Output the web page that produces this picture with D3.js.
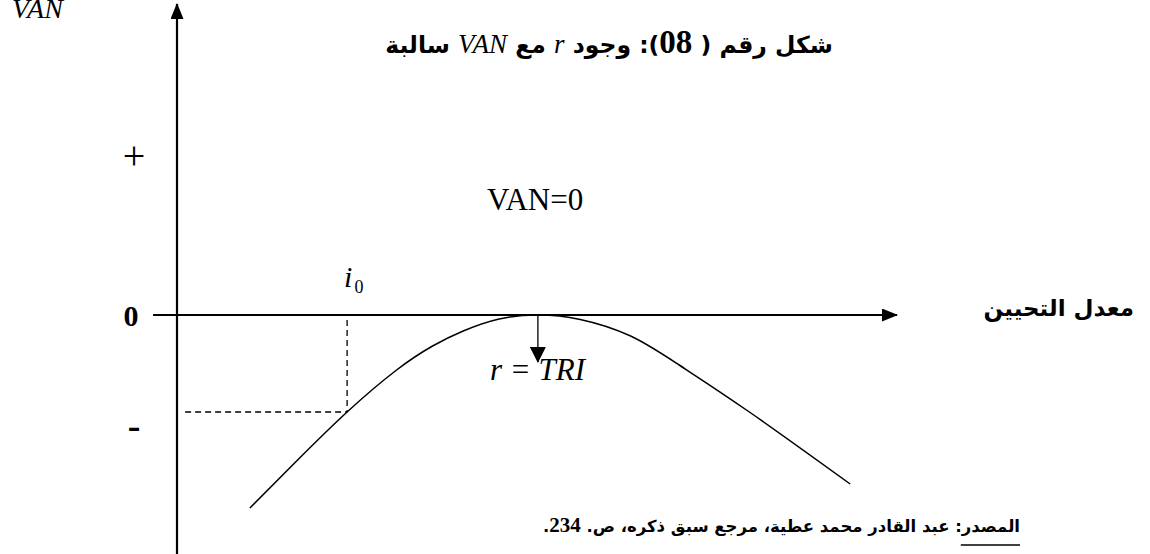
<!DOCTYPE html>
<html>
<head>
<meta charset="utf-8">
<script src="https://cdn.jsdelivr.net/npm/d3@7"></script>
<style>
  body { margin: 0; background: #fff; }
  svg { display: block; }
  .latin { font-family: "Liberation Serif", "Times New Roman", serif; }
  .arabic { font-family: "DejaVu Sans", sans-serif; font-weight: bold; }
</style>
</head>
<body>
<div id="chart"></div>
<script>
// curve: discount rate vs VAN
const rates = [4.05, 6.7, 9.45, 12.2, 14.2, 15.9, 17.9, 20.05, 22.4, 25.2, 27.9, 31.8, 37.4];
const vanValues = [-9.65, -7.25, -4.85, -2.75, -1.55, -0.8, -0.2, 0, -0.22, -1.05, -2.5, -4.85, -8.45];

const i0Rate = 9.45;
const i0Van = -4.85;
const triRate = 20.05;

const signLabels = ["+", "0", "-"];
const signValues = [7.9, 0, -5.5];

const titleParts = ["شكل رقم ( ", "08", "): وجود ", "r", " مع ", "VAN", " سالبة"];
const sourceParts = ["المصدر", ": عبد القادر محمد عطية، مرجع سبق ذكره، ص. ", "234", "."];

const width = 1150, height = 554;

const svg = d3.select("#chart").append("svg")
    .attr("width", width)
    .attr("height", height);

const x = d3.scaleLinear().domain([0, 40]).range([177, 897]);
const y = d3.scaleLinear().domain([-12, 15.75]).range([555, 0]);

// arrow heads
const defs = svg.append("defs");
defs.append("marker")
    .attr("id", "head")
    .attr("viewBox", "0 0 16 13")
    .attr("refX", 15).attr("refY", 6.5)
    .attr("markerWidth", 16).attr("markerHeight", 13)
    .attr("markerUnits", "userSpaceOnUse")
    .attr("orient", "auto")
    .append("path").attr("d", "M0,0L16,6.5L0,13Z").attr("fill", "#000");
defs.append("marker")
    .attr("id", "smallHead")
    .attr("viewBox", "0 0 16 16")
    .attr("refX", 15).attr("refY", 8)
    .attr("markerWidth", 16).attr("markerHeight", 16)
    .attr("markerUnits", "userSpaceOnUse")
    .attr("orient", "auto")
    .append("path").attr("d", "M0,0L16,8L0,16Z").attr("fill", "#000");

// axes
svg.append("line")
    .attr("x1", x(0)).attr("y1", y(-12))
    .attr("x2", x(0)).attr("y2", y(15.55))
    .attr("stroke", "#000").attr("stroke-width", 2.2)
    .attr("marker-end", "url(#head)");

svg.append("line")
    .attr("x1", x(-1.33)).attr("y1", y(0))
    .attr("x2", x(40)).attr("y2", y(0))
    .attr("stroke", "#000").attr("stroke-width", 2)
    .attr("marker-end", "url(#head)");

// VAN curve
const pts = rates.map((r, i) => [r, vanValues[i]]);
const line = d3.line()
    .x(d => x(d[0]))
    .y(d => y(d[1]))
    .curve(d3.curveNatural);

svg.append("path")
    .datum(pts)
    .attr("d", line)
    .attr("fill", "none")
    .attr("stroke", "#000")
    .attr("stroke-width", 1.5);

// dashed guides at i0
svg.append("line")
    .attr("x1", x(i0Rate)).attr("y1", y(-0.25))
    .attr("x2", x(i0Rate)).attr("y2", y(i0Van))
    .attr("stroke", "#000").attr("stroke-width", 1.3)
    .attr("stroke-dasharray", "6,4");
svg.append("line")
    .attr("x1", x(0.45)).attr("y1", y(i0Van))
    .attr("x2", x(i0Rate)).attr("y2", y(i0Van))
    .attr("stroke", "#000").attr("stroke-width", 1.3)
    .attr("stroke-dasharray", "6,4");

// TRI arrow
svg.append("line")
    .attr("x1", x(triRate)).attr("y1", y(0))
    .attr("x2", x(triRate)).attr("y2", y(-2.35))
    .attr("stroke", "#000").attr("stroke-width", 1.3)
    .attr("marker-end", "url(#smallHead)");

// sign labels on the VAN axis
svg.selectAll(".sign")
    .data(signLabels)
    .enter()
    .append("text")
    .attr("class", "latin sign")
    .attr("x", (d, i) => i === 1 ? 131 : 134)
    .attr("y", (d, i) => y(signValues[i]))
    .attr("dy", (d, i) => i === 0 ? "0.3em" : "0.35em")
    .attr("text-anchor", "middle")
    .attr("font-size", (d, i) => i === 0 ? 40 : i === 1 ? 30 : 38)
    .attr("font-weight", (d, i) => i === 0 ? "normal" : "bold")
    .text(d => d);

// axis name VAN
svg.append("text")
    .attr("class", "latin")
    .attr("x", 12).attr("y", 18)
    .attr("font-size", 28)
    .attr("font-style", "italic")
    .text("VAN");

svg.append("text")
    .attr("class", "latin")
    .attr("x", 487).attr("y", 210)
    .attr("font-size", 31)
    .text("VAN=0");

// i0
const i0Label = svg.append("text")
    .attr("class", "latin")
    .attr("x", x(i0Rate) - 3).attr("y", 287)
    .attr("font-size", 30)
    .attr("font-style", "italic")
    .text("i");
i0Label.append("tspan")
    .attr("font-size", 18)
    .attr("font-style", "normal")
    .attr("dx", 2).attr("dy", 6)
    .text("0");

svg.append("text")
    .attr("class", "latin")
    .attr("x", 490).attr("y", 380)
    .attr("font-size", 31)
    .attr("font-style", "italic")
    .text("r = TRI");

// rate axis name
svg.append("text")
    .attr("class", "arabic")
    .attr("x", 1134).attr("y", 316)
    .attr("text-anchor", "end")
    .attr("font-size", 23)
    .text("معدل التحيين");

// title
const title = svg.append("text")
    .attr("x", 609).attr("y", 53)
    .attr("text-anchor", "middle")
    .attr("direction", "rtl")
    .attr("class", "arabic")
    .attr("font-size", 23.5);
title.selectAll("tspan")
    .data(titleParts)
    .enter()
    .append("tspan")
    .attr("class", (d, i) => (i === 1 || i === 3 || i === 5) ? "latin" : "arabic")
    .attr("font-size", (d, i) => i === 1 ? 33 : (i === 3 || i === 5) ? 27 : 23.5)
    .attr("font-style", (d, i) => (i === 3 || i === 5) ? "italic" : "normal")
    .attr("font-weight", (d, i) => (i === 3 || i === 5) ? "normal" : "bold")
    .text(d => d);

// source
const source = svg.append("text")
    .attr("x", 1020).attr("y", 532)
    .attr("text-anchor", "start")
    .attr("direction", "rtl")
    .attr("class", "arabic")
    .attr("font-size", 16.5);
source.selectAll("tspan")
    .data(sourceParts)
    .enter()
    .append("tspan")
    .attr("class", (d, i) => i === 2 ? "latin" : "arabic")
    .attr("font-size", (d, i) => i === 2 ? 21 : 16.5)
    .attr("font-weight", "bold")
    .text(d => d);

// underline under the word المصدر, set a little below the text as in the source
const srcBox = source.select("tspan").node().getBBox();
svg.append("line")
    .attr("x1", srcBox.x).attr("x2", srcBox.x + srcBox.width)
    .attr("y1", 545).attr("y2", 545)
    .attr("stroke", "#000").attr("stroke-width", 1.5);
</script>
</body>
</html>
